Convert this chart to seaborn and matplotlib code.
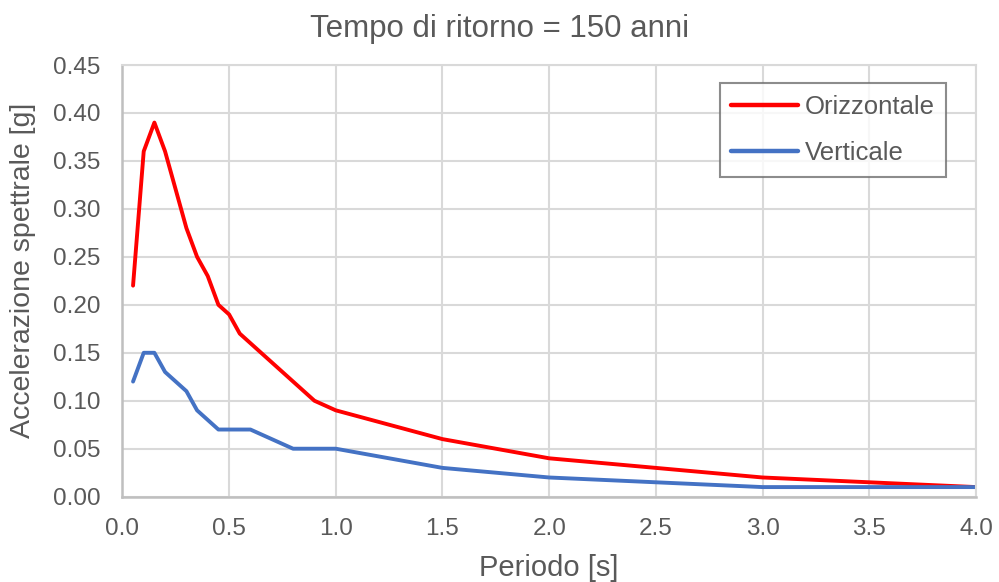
import matplotlib
matplotlib.use("Agg")
import matplotlib.pyplot as plt
import seaborn as sns
import pandas as pd

periods = [0.05, 0.1, 0.15, 0.2, 0.25, 0.3, 0.35, 0.4, 0.45, 0.5, 0.55, 0.6, 0.7, 0.8, 0.9, 1.0, 1.5, 2.0, 3.0, 4.0]
orizzontale = [0.22, 0.36, 0.39, 0.36, 0.32, 0.28, 0.25, 0.23, 0.20, 0.19, 0.17, 0.16, 0.14, 0.12, 0.10, 0.09, 0.06, 0.04, 0.02, 0.01]
verticale = [0.12, 0.15, 0.15, 0.13, 0.12, 0.11, 0.09, 0.08, 0.07, 0.07, 0.07, 0.07, 0.06, 0.05, 0.05, 0.05, 0.03, 0.02, 0.01, 0.01]
series_names = ["Orizzontale", "Verticale"]
x_ticks = [0.0, 0.5, 1.0, 1.5, 2.0, 2.5, 3.0, 3.5, 4.0]
y_ticks = [0.00, 0.05, 0.10, 0.15, 0.20, 0.25, 0.30, 0.35, 0.40, 0.45]

df = pd.DataFrame({
    "Periodo": periods * 2,
    "Acc": orizzontale + verticale,
    "Serie": [series_names[0]] * len(periods) + [series_names[1]] * len(periods),
})

sns.set_theme(style="white")
plt.rcParams["font.family"] = ["Liberation Sans", "DejaVu Sans"]
txt = "#595959"
grid_c = "#d9d9d9"

fig = plt.figure(figsize=(9.99, 5.82), dpi=100)
ax = fig.add_axes([0.1225, 0.1466, 0.8545, 0.7417])

sns.lineplot(data=df, x="Periodo", y="Acc", hue="Serie", palette=["#ff0000", "#4472c4"],
             linewidth=2.8, ax=ax, sort=False)

ax.set_xlim(0, 4)
ax.set_ylim(0, 0.45)
ax.set_xticks(x_ticks)
ax.set_yticks(y_ticks)
ax.set_xticklabels([f"{v:.1f}" for v in x_ticks])
ax.set_yticklabels([f"{v:.2f}" for v in y_ticks])
ax.tick_params(axis="both", labelsize=17.5, colors=txt, length=0)
ax.tick_params(axis="x", pad=15)
ax.tick_params(axis="y", pad=16)
ax.grid(True, color=grid_c, linewidth=1.5)
ax.set_axisbelow(True)
for s in ["top", "right"]:
    ax.spines[s].set_color(grid_c)
    ax.spines[s].set_linewidth(1.5)
for s in ["left", "bottom"]:
    ax.spines[s].set_color("#bfbfbf")
    ax.spines[s].set_linewidth(1.8)

ax.set_xlabel("Periodo [s]", fontsize=21, color=txt, va="top")
ax.xaxis.set_label_coords(0.5, -0.132)
ax.set_ylabel("Accelerazione spettrale [g]", fontsize=20.5, color=txt)
ax.yaxis.set_label_coords(-0.101, 0.525)
fig.text(0.5, 0.950, "Tempo di ritorno = 150 anni", ha="center", va="center", fontsize=22.5, color=txt)

leg = ax.legend(loc="upper right", bbox_to_anchor=(0.965, 0.958), fontsize=18.5, frameon=True,
                fancybox=False, handlelength=2.6, handletextpad=0.25, borderpad=0.45,
                labelspacing=0.88, borderaxespad=0)
leg.get_frame().set_edgecolor("#6f6f6f")
leg.get_frame().set_linewidth(1.5)
for t in leg.get_texts():
    t.set_color(txt)
for l in leg.get_lines():
    l.set_linewidth(3.2)

fig.savefig("out.png", dpi=100)
